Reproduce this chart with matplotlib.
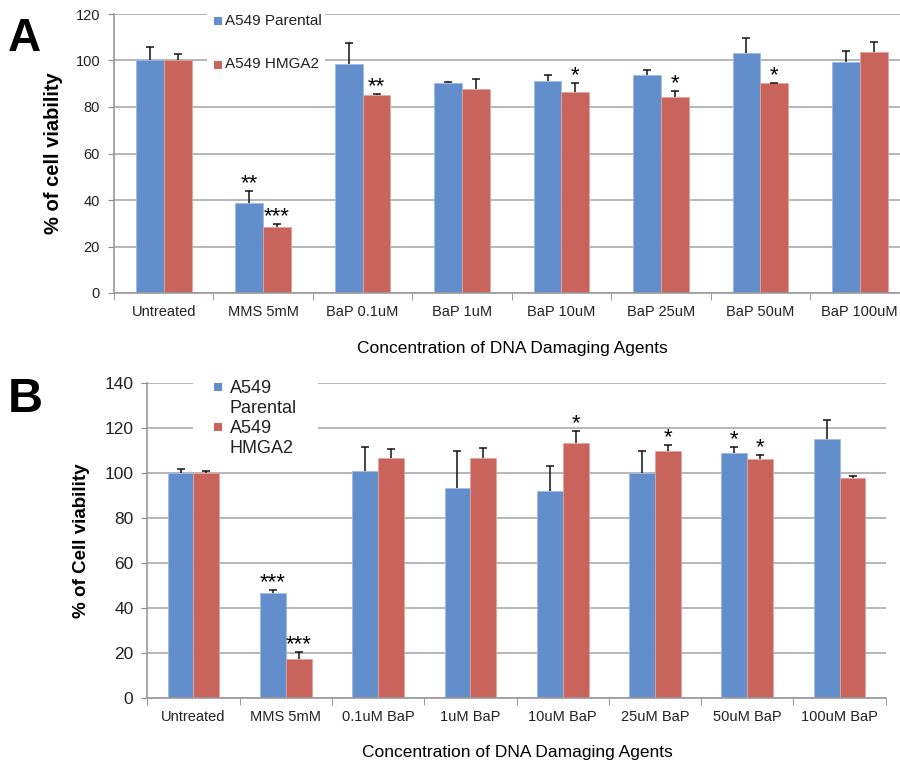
import numpy as np
import matplotlib
matplotlib.use('Agg')
import matplotlib.pyplot as plt
from matplotlib.patches import Rectangle

plt.rcParams['font.family'] = ['Liberation Sans', 'DejaVu Sans']

# Panel A data
cats_a = ['Untreated', 'MMS 5mM', 'BaP 0.1uM', 'BaP 1uM', 'BaP 10uM', 'BaP 25uM', 'BaP 50uM', 'BaP 100uM']
par_a = [100, 38.6, 98.5, 90.2, 91.0, 93.8, 103.4, 99.2]
par_a_err = [6.0, 5.4, 8.9, 0.6, 2.9, 2.1, 6.3, 4.8]
hm_a = [100, 28.5, 85.2, 87.9, 86.6, 84.4, 90.2, 103.7]
hm_a_err = [3.0, 1.2, 0.3, 4.0, 3.6, 2.3, 0.2, 4.3]
stars_par_a = ['', '**', '', '', '', '', '', '']
stars_hm_a = ['', '***', '**', '', '*', '*', '*', '']

# Panel B data
cats_b = ['Untreated', 'MMS 5mM', '0.1uM BaP', '1uM BaP', '10uM BaP', '25uM BaP', '50uM BaP', '100uM BaP']
par_b = [100, 46.5, 101, 93.5, 92, 100, 109.1, 115.2]
par_b_err = [1.8, 1.6, 10.5, 16.3, 11.2, 9.8, 2.4, 8.4]
hm_b = [100, 17.2, 106.6, 106.6, 113.5, 109.7, 106.4, 97.7]
hm_b_err = [1.0, 3.1, 4.1, 4.7, 5.2, 2.7, 1.6, 1.1]
stars_par_b = ['', '***', '', '', '', '', '*', '']
stars_hm_b = ['', '***', '', '', '*', '*', '*', '']

BLUE = '#628ECC'
RED = '#C9645C'
W, H = 900, 763

fig = plt.figure(figsize=(9, 7.63), dpi=100)


def px(x0, y0, x1, y1):
    # pixel box (from top-left) -> figure rect
    return [x0 / W, 1 - y1 / H, (x1 - x0) / W, (y1 - y0) / H]


def up_errbar(ax, xs, vals, errs):
    # one-sided (upper) error bars, cap only on top
    _, caps, _ = ax.errorbar(xs, vals, yerr=[np.zeros(len(vals)), errs], fmt='none',
                             ecolor='#111111', elinewidth=1.1, capsize=3, capthick=1.1,
                             zorder=3)
    caps[0].set_visible(False)


def panel(ax, cats, par, par_err, hm, hm_err, s_par, s_hm, ymax, ystep, tick_fs):
    x = np.arange(len(cats))
    bw = 0.28
    ax.bar(x - bw / 2, par, bw, color=BLUE, edgecolor='#9dbbe3', linewidth=0.6, zorder=2)
    ax.bar(x + bw / 2, hm, bw, color=RED, edgecolor='#e3a39d', linewidth=0.6, zorder=2)
    up_errbar(ax, x - bw / 2, par, par_err)
    up_errbar(ax, x + bw / 2, hm, hm_err)
    for i in range(len(cats)):
        if s_par[i]:
            ax.text(x[i] - bw / 2, par[i] + par_err[i] + 0.8, s_par[i], ha='center',
                    va='baseline', fontsize=16, zorder=4)
        if s_hm[i]:
            ax.text(x[i] + bw / 2, hm[i] + hm_err[i] + 0.8, s_hm[i], ha='center',
                    va='baseline', fontsize=16, zorder=4)
    ax.set_xlim(-0.5, len(cats) - 0.5)
    ax.set_ylim(0, ymax)
    ax.set_yticks(np.arange(0, ymax + 1, ystep))
    ax.set_xticks(x)
    ax.set_xticklabels(cats, fontsize=10.5, color='#222222')
    ax.set_xticks(np.arange(-0.5, len(cats)), minor=True)
    ax.tick_params(axis='x', which='major', length=0, pad=9)
    ax.tick_params(axis='x', which='minor', length=5, color='#888888')
    ax.tick_params(axis='y', length=4, color='#888888', labelsize=tick_fs, pad=6, labelcolor='#222222')
    ax.grid(axis='y', color='#aaaaaa', linewidth=1.2, zorder=0)
    ax.set_axisbelow(True)
    for s in ['top', 'right']:
        ax.spines[s].set_visible(False)
    for s in ['left', 'bottom']:
        ax.spines[s].set_color('#999999')
        ax.spines[s].set_linewidth(1.2)


def legend_box(x0, y0, x1, y1, entries, fs):
    fig.add_artist(Rectangle((x0 / W, 1 - y1 / H), (x1 - x0) / W, (y1 - y0) / H,
                             transform=fig.transFigure, facecolor='white',
                             edgecolor='none', zorder=5))
    for (mx, my, tx, ty, color, label) in entries:
        fig.add_artist(Rectangle((mx / W, 1 - (my + 8) / H), 8 / W, 8 / H,
                                 transform=fig.transFigure, facecolor=color,
                                 edgecolor='none', zorder=6))
        fig.text(tx / W, 1 - ty / H, label, fontsize=fs, va='top', ha='left',
                 color='#222222', zorder=7, linespacing=1.2)


# Panel A
ax_a = fig.add_axes(px(114, 14, 909.5, 293))
panel(ax_a, cats_a, par_a, par_a_err, hm_a, hm_a_err, stars_par_a, stars_hm_a, 120, 20, 10.5)
legend_box(207, 6, 325, 85,
           [(214, 17, 225, 14, BLUE, 'A549 Parental'),
            (214, 61, 225, 57, RED, 'A549 HMGA2')], 11)
fig.text(54 / W, 1 - 153 / H, '% of cell viability', rotation=90, ha='center', va='center',
         fontsize=14.5, fontweight='bold')
fig.text(512 / W, 1 - 348 / H, 'Concentration of DNA Damaging Agents', ha='center',
         va='center', fontsize=12.5)
fig.text(24 / W, 1 - 39 / H, 'A', ha='center', va='center', fontsize=33, fontweight='bold')

# Panel B
ax_b = fig.add_axes(px(147.3, 383.3, 885.8, 697.7))
panel(ax_b, cats_b, par_b, par_b_err, hm_b, hm_b_err, stars_par_b, stars_hm_b, 140, 20, 12.5)
legend_box(193, 376, 318, 462,
           [(214, 383, 230, 380, BLUE, 'A549\nParental'),
            (214, 423, 230, 420, RED, 'A549\nHMGA2')], 13)
fig.text(82 / W, 1 - 541 / H, '% of Cell viability', rotation=90, ha='center', va='center',
         fontsize=13.5, fontweight='bold')
fig.text(517 / W, 1 - 753 / H, 'Concentration of DNA Damaging Agents', ha='center',
         va='center', fontsize=12.5)
fig.text(25 / W, 1 - 400 / H, 'B', ha='center', va='center', fontsize=35, fontweight='bold')

fig.savefig('out.png', dpi=100)
